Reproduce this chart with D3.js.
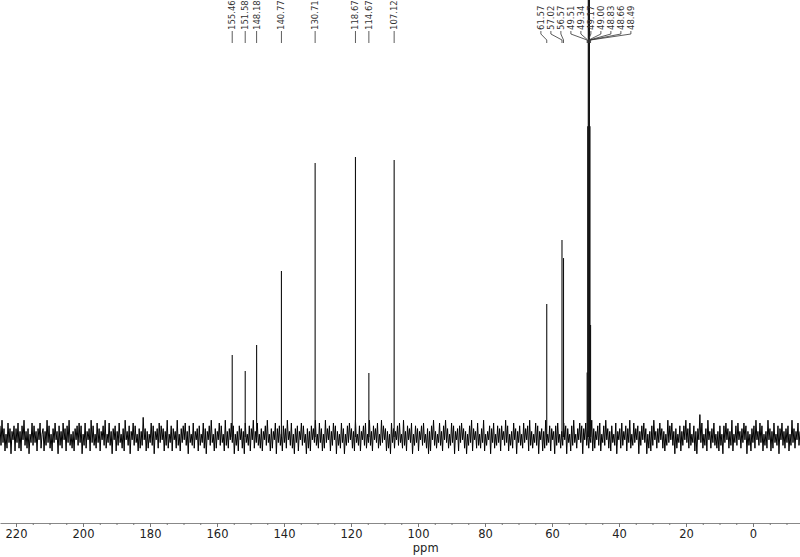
<!DOCTYPE html>
<html><head><meta charset="utf-8">
<script src="https://cdn.jsdelivr.net/npm/d3@7"></script>
<style>body{margin:0;background:#fff}svg{display:block}</style>
</head><body>
<svg id="c" width="800" height="557"></svg>
<script>
// ---- data ----
const peakPpm = [155.46,151.58,148.18,140.77,130.71,118.67,114.67,107.12,61.57,57.02,56.57,49.51,49.34,49.17,49.00,48.83,48.66,48.49];
const peakHeight = [29.3,23.6,32.9,59.3,97.9,100,22.9,98.9,47.5,70.4,63.9,23,111,222,259,222,111,40];
const peakLabels = ["155.46","151.58","148.18","140.77","130.71","118.67","114.67","107.12","61.57","57.02","56.57","49.51","49.34","49.17","49.00","48.83","48.66","48.49"];
const axisTicks = [220,200,180,160,140,120,100,80,60,40,20,0];
const minorTicks = [215,210,205,195,190,185,175,170,165,155,150,145,135,130,125,115,110,105,95,90,85,75,70,65,55,50,45,35,30,25,15,10,5,-5,-10];
const ppmRange = [224.78,-14.03];
const noise = [
4,-3,6,-2,3,-5,1,-4,5,-2,3,-6,2,-1,4,-5,3,-2,5,-4,
2,-5,4,-1,6,-3,2,-4,3,-6,1,-2,5,-3,4,-2,2,-5,3,-1,
5,-4,1,3,-5,2,-3,6,-2,4,-4,1,-5,3,-2,5,-1,2,-6,4,
-3,2,-4,5,-1,3,-5,4,-2,6,-3,1,-4,2,-5,3,-1,4,-3,5,
-2,4,-6,1,-3,5,-4,2,-1,3,-5,6,-2,4,-3,1,-4,5,-2,3,
-5,2,-1,4,-3,6,-4,1,-2,5,-3,2,-6,3,-1,4,-5,2,-3,5,
-2,1,-4,3,-5,6,-1,2,-3,4,-6,2,-1,5,-3,4,-2,1,-5,3,
-4,2,-3,7,-1,3,-5,2,-4,1,-2,5,-3,4,-6,2,-1,3,-4,5,
-2,4,-1,3,-5,2,-3,6,-4,1,-2,4,-5,3,-1,2,-4,6,-3,1,
-5,3,-2,4,-1,5,-3,2,-6,4,-2,1,-3,5,-4,2,-1,3,-5,4,
-3,1,-2,5,-4,3,-6,2,-1,4,-3,6,-2,1,-5,3,-4,2,-1,5,
-3,4,-2,1,-5,6,-3,2,-4,3,-1,5,-2,4,-6,1,-3,2,-5,4,
-1,3,-4,2,-6,5,-2,1,-3,4,-5,3,-1,6,-4,2,-2,5,-3,1,
-4,3,-5,2,-1,4,-3,6,-2,1,-5,3,-4,2,-1,5,-6,3,-2,4,
-3,1,-5,4,-2,3,-4,6,-1,2,-3,5,-4,1,-6,3,-2,4,-5,2,
-1,5,-3,4,-2,1,-6,3,-4,2,-5,4,-1,3,-2,6,-3,1,-4,5,
-2,3,-5,1,-4,6,-2,3,-1,4,-5,2,-3,5,-1,4,-6,2,-3,1,
-4,5,-2,3,-6,1,-3,4,-2,5,-1,3,-4,2,-5,6,-2,1,-3,4,
-5,2,-1,4,-3,5,-4,1,-2,6,-3,2,-5,4,-1,3,-2,5,-4,1,
-3,6,-2,4,-1,3,-5,2,-4,1,-6,5,-2,3,-4,2,-1,4,-3,5,
-2,1,-4,6,-3,2,-5,4,-1,3,-2,5,-6,1,-3,4,-2,3,-5,2,
-1,4,-3,5,-2,1,-4,3,-6,2,-5,4,-1,6,-3,2,-4,1,-2,5,
-3,2,-5,4,-1,6,-2,3,-4,1,-3,5,-2,4,-6,2,-1,3,-5,4,
-2,5,-1,3,-4,2,-6,1,-3,4,-2,6,-5,3,-1,2,-4,5,-3,1,
-4,3,-2,6,-5,1,-3,2,-1,4,-6,3,-2,5,-4,1,-3,4,-2,3,
-5,4,-1,2,-3,6,-2,4,-5,1,-3,2,-4,5,-1,3,-6,2,-2,4,
-3,1,-4,5,-2,3,-1,4,-5,6,-3,2,-4,1,-2,5,-3,4,-6,2,
-1,3,-5,2,-4,6,-3,1,-2,4,-5,3,-1,2,-6,4,-3,5,-2,1,
-4,2,-3,5,-1,4,-6,3,-2,1,-5,4,-3,6,-2,1,-4,3,-1,5,
-2,4,-6,3,-1,5,-3,2,-4,1,-2,6,-5,3,-4,2,-1,4,-3,5,
-5,1,-2,4,-3,6,-1,3,-4,2,-5,4,-2,1,-3,5,-6,2,-1,3,
-4,5,-3,2,-1,4,-5,3,-2,6,-4,1,-3,5,-2,3,-1,4,-6,2,
-3,4,-1,5,-2,3,-6,1,-4,2,-5,4,-3,6,-1,2,-4,3,-2,5,
-1,3,-4,2,-5,1,-3,6,-2,4,-1,5,-3,2,-6,3,-4,1,-2,4,
-5,2,-3,4,-1,6,-2,3,-4,5,-3,1,-2,4,-5,2,-6,3,-1,8,
-2,5,-4,1,-3,3,-5,6,-1,2,-4,3,-2,5,-3,1,-4,2,-5,4,
-3,1,-6,4,-2,5,-1,3,-4,2,-3,6,-5,1,-2,4,-3,5,-1,2,
-4,3,-2,5,-1,4,-6,2,-3,1,-5,3,-2,4,-4,6,-1,2,-3,5,
-2,4,-5,1,-3,2,-4,6,-1,3,-5,2,-4,5,-2,1,-3,4,-6,3,
-1,5,-3,2,-4,3,-2,4,-5,1,-3,6,-2,3,-4,2,-1,5,-3,2
];

// ---- scales ----
const svg = d3.select("#c");
const x = d3.scaleLinear().domain(ppmRange).range([0,800]);
const y = d3.scaleLinear().domain([0,100]).range([437,157]);
const idx = d3.scaleLinear().domain([0,noise.length-1]).range(ppmRange);

// noise
svg.append("path")
  .datum(noise)
  .attr("fill","none").attr("stroke","#000").attr("stroke-width",1)
  .attr("d", d3.line().x((d,i)=>x(idx(i))).y(d=>y(d)));

// peaks
svg.append("g").selectAll("line").data(peakPpm).join("line")
  .attr("x1",d=>x(d)).attr("x2",d=>x(d))
  .attr("y1",y(0)).attr("y2",(d,i)=>y(peakHeight[i]))
  .attr("stroke","#111").attr("stroke-width",1.1);

// axis
const ax = svg.append("g").attr("transform","translate(0,523)");
ax.call(d3.axisBottom(x).tickValues(axisTicks).tickSize(4).tickSizeOuter(0).tickPadding(3));
ax.select(".domain").attr("stroke","#888");
ax.selectAll(".tick line").attr("stroke","#777");
ax.selectAll(".tick text").attr("font-family","DejaVu Sans, sans-serif").attr("font-size",11.5).attr("fill","#222");
const mx = svg.append("g").attr("transform","translate(0,523)");
mx.call(d3.axisBottom(x).tickValues(minorTicks).tickSize(2).tickSizeOuter(0).tickFormat(""));
mx.select(".domain").remove();
mx.selectAll(".tick line").attr("stroke","#777");
svg.append("text").attr("x",x(97.7)).attr("y",552).attr("text-anchor","middle")
  .attr("font-family","DejaVu Sans, sans-serif").attr("font-size",11.5).attr("fill","#222").text("ppm");

// label layout: clusters with fixed spacing
const sp = 10;
let clusters = peakPpm.map((p,i)=>({items:[i]}));
function place(c){
  const n=c.items.length;
  const v=c.items.map((k,j)=>x(peakPpm[k])-(j-(n-1)/2)*sp).sort((a,b)=>a-b);
  const m = n%2 ? v[(n-1)/2] : (v[n/2-1]+v[n/2])/2;
  c.center=m; c.left=m-(n-1)/2*sp; c.right=m+(n-1)/2*sp;
}
clusters.forEach(place);
let merged=true;
while(merged){
  merged=false;
  for(let i=0;i<clusters.length-1;i++){
    if(clusters[i+1].left - clusters[i].right < sp){
      clusters[i].items = clusters[i].items.concat(clusters[i+1].items);
      clusters.splice(i+1,1); place(clusters[i]); merged=true; break;
    }
  }
}
const labelX = [];
clusters.forEach(c=>c.items.forEach((k,j)=>labelX[k]=c.left+j*sp));

const lg = svg.append("g");
peakPpm.forEach((p,i)=>{
  const lx=labelX[i], px=x(p);
  lg.append("path").attr("fill","none").attr("stroke","#333").attr("stroke-width",0.8)
    .attr("d", d3.line()([[lx,31],[lx,34],[px,40],[px,43]]));
  lg.append("text").attr("transform",`translate(${lx+3},30) rotate(-90)`)
    .attr("font-family","DejaVu Sans, sans-serif").attr("font-size",8.5).attr("fill","#333")
    .text(peakLabels[i]);
});
</script>
</body></html>
